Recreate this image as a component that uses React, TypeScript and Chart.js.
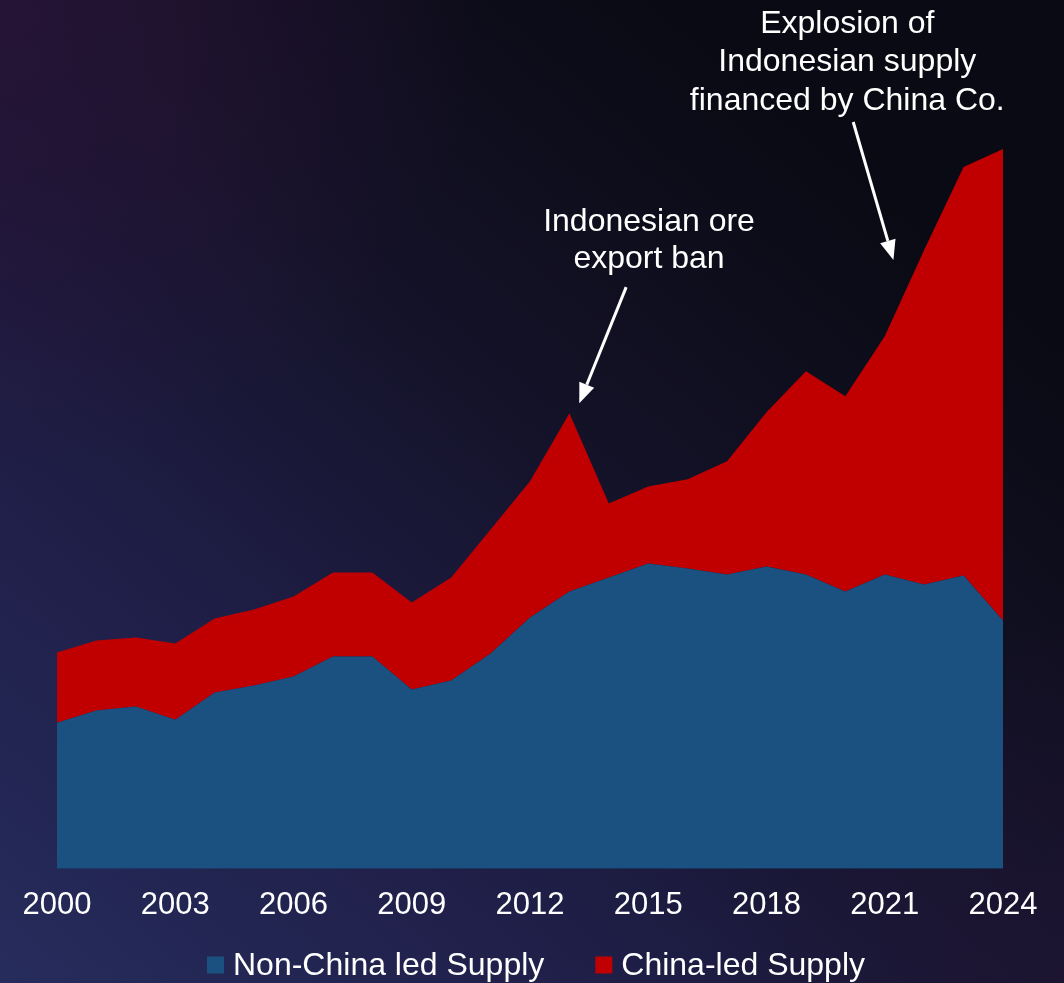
import React, { useEffect, useRef } from "react";
import { Chart, registerables } from "chart.js";

Chart.register(...registerables);

// ---- data (thousand tonnes) ----
const years = [
  "2000", "2001", "2002", "2003", "2004", "2005", "2006", "2007", "2008", "2009",
  "2010", "2011", "2012", "2013", "2014", "2015", "2016", "2017", "2018", "2019",
  "2020", "2021", "2022", "2023", "2024",
];
const nonChinaSupply = [
  730, 790, 810, 745, 880, 915, 960, 1060, 1060, 895,
  940, 1075, 1255, 1385, 1455, 1525, 1500, 1470, 1510, 1470,
  1385, 1470, 1420, 1465, 1240,
];
const chinaLedSupply = [
  350, 350, 345, 380, 370, 380, 400, 420, 420, 435,
  515, 620, 680, 890, 370, 385, 445, 565, 770, 1015,
  975, 1190, 1670, 2040, 2355,
];
const tickYears = ["2000", "2003", "2006", "2009", "2012", "2015", "2018", "2021", "2024"];
const seriesLabels = ["Non-China led Supply", "China-led Supply"];
const seriesColors = ["#1b5180", "#c00000"];
const banNote = ["Indonesian ore", "export ban"];
const explosionNote = ["Explosion of", "Indonesian supply", "financed by China Co."];

// annotation anchors in data space (category index, value)
const banNoteAnchor = { x: 15.02, y: 3185, step: 185 };
const banArrow = { x0: 14.44, y0: 2905, x1: 13.25, y1: 2325 };
const explosionNoteAnchor = { x: 20.05, y: 4175, step: 192 };
const explosionArrow = { x0: 20.2, y0: 3730, x1: 21.22, y1: 3040 };

const FONT = '"Liberation Sans", Arial, Helvetica, sans-serif';

const backgroundPlugin = {
  id: "bg",
  beforeDraw(chart: any) {
    const { ctx, width, height } = chart;
    ctx.save();
    const lg = ctx.createLinearGradient(0, height, 760, 90);
    lg.addColorStop(0, "#262c5c");
    lg.addColorStop(0.35, "#1f1e47");
    lg.addColorStop(0.7, "#131125");
    lg.addColorStop(1, "#0a0a14");
    ctx.fillStyle = lg;
    ctx.fillRect(0, 0, width, height);
    const r1 = ctx.createRadialGradient(0, 0, 0, 0, 0, 480);
    r1.addColorStop(0, "rgba(44,20,58,0.75)");
    r1.addColorStop(1, "rgba(44,20,58,0)");
    ctx.fillStyle = r1;
    ctx.fillRect(0, 0, width, height);
    const r2 = ctx.createRadialGradient(width, height, 0, width, height, 360);
    r2.addColorStop(0, "rgba(30,20,50,0.7)");
    r2.addColorStop(1, "rgba(30,20,50,0)");
    ctx.fillStyle = r2;
    ctx.fillRect(0, 0, width, height);
    ctx.restore();
  },
};

function drawArrow(ctx: any, x0: number, y0: number, x1: number, y1: number) {
  const ang = Math.atan2(y1 - y0, x1 - x0);
  const headLen = 20;
  const headHalf = 8;
  const bx = x1 - headLen * Math.cos(ang);
  const by = y1 - headLen * Math.sin(ang);
  ctx.strokeStyle = "#ffffff";
  ctx.fillStyle = "#ffffff";
  ctx.lineWidth = 3;
  ctx.beginPath();
  ctx.moveTo(x0, y0);
  ctx.lineTo(bx, by);
  ctx.stroke();
  ctx.beginPath();
  ctx.moveTo(x1, y1);
  ctx.lineTo(bx + headHalf * Math.sin(ang), by - headHalf * Math.cos(ang));
  ctx.lineTo(bx - headHalf * Math.sin(ang), by + headHalf * Math.cos(ang));
  ctx.closePath();
  ctx.fill();
}

const annotationPlugin = {
  id: "notes",
  afterDraw(chart: any) {
    const { ctx } = chart;
    const xs = chart.scales.x;
    const ys = chart.scales.y;
    ctx.save();
    ctx.fillStyle = "#ffffff";
    ctx.font = `32px ${FONT}`;
    ctx.textAlign = "center";
    ctx.textBaseline = "alphabetic";
    banNote.forEach((t, i) => {
      ctx.fillText(
        t,
        xs.getPixelForValue(banNoteAnchor.x),
        ys.getPixelForValue(banNoteAnchor.y - i * banNoteAnchor.step)
      );
    });
    explosionNote.forEach((t, i) => {
      ctx.fillText(
        t,
        xs.getPixelForValue(explosionNoteAnchor.x),
        ys.getPixelForValue(explosionNoteAnchor.y - i * explosionNoteAnchor.step)
      );
    });
    [banArrow, explosionArrow].forEach((a) => {
      drawArrow(
        ctx,
        xs.getPixelForValue(a.x0),
        ys.getPixelForValue(a.y0),
        xs.getPixelForValue(a.x1),
        ys.getPixelForValue(a.y1)
      );
    });

    // legend
    ctx.font = `32px ${FONT}`;
    ctx.textAlign = "left";
    ctx.textBaseline = "middle";
    const box = 17;
    const gapBoxText = 9;
    const gapItems = 51;
    const widths = seriesLabels.map((l) => ctx.measureText(l).width);
    const total =
      widths.reduce((s, w) => s + w + box + gapBoxText, 0) + gapItems * (seriesLabels.length - 1);
    let x = (chart.width - total) / 2 + 4;
    const cy = 965;
    seriesLabels.forEach((l, i) => {
      ctx.fillStyle = seriesColors[i];
      ctx.fillRect(x, cy - box / 2, box, box);
      ctx.fillStyle = "#ffffff";
      ctx.fillText(l, x + box + gapBoxText, cy + 1);
      x += box + gapBoxText + widths[i] + gapItems;
    });
    ctx.restore();
  },
};

export default function App() {
  const ref = useRef<HTMLCanvasElement | null>(null);
  useEffect(() => {
    document.body.style.margin = "0";
    const canvas = ref.current;
    if (!canvas) return;
    const chart = new Chart(canvas, {
      type: "line",
      data: {
        labels: years,
        datasets: [
          {
            label: seriesLabels[0],
            data: nonChinaSupply,
            backgroundColor: seriesColors[0],
            borderColor: seriesColors[0],
            borderWidth: 0,
            pointRadius: 0,
            fill: "origin",
            tension: 0,
          },
          {
            label: seriesLabels[1],
            data: chinaLedSupply,
            backgroundColor: seriesColors[1],
            borderColor: seriesColors[1],
            borderWidth: 0,
            pointRadius: 0,
            fill: "-1",
            tension: 0,
          },
        ],
      },
      options: {
        responsive: false,
        animation: false,
        layout: { padding: { top: 148, left: 57, right: 61, bottom: 41 } },
        plugins: {
          legend: { display: false },
          tooltip: { enabled: false },
        },
        scales: {
          x: {
            offset: false,
            grid: { display: false, drawTicks: false },
            border: { display: false },
            ticks: {
              autoSkip: false,
              maxRotation: 0,
              padding: 18,
              color: "#ffffff",
              font: { family: FONT, size: 31 },
              callback: (_v: any, i: number) => (tickYears.includes(years[i]) ? years[i] : ""),
            },
          },
          y: {
            display: false,
            stacked: true,
            min: 0,
            max: 3600,
          },
        },
      },
      plugins: [backgroundPlugin, annotationPlugin],
    });
    return () => chart.destroy();
  }, []);
  return (
    <div style={{ width: 1064, height: 983 }}>
      <canvas ref={ref} width={1064} height={983} style={{ display: "block" }} />
    </div>
  );
}
